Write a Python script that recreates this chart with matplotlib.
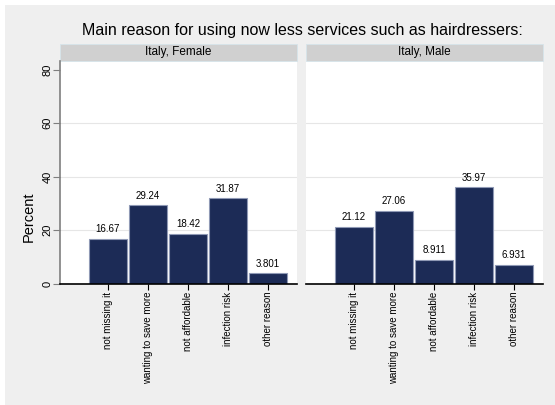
import numpy as np
import matplotlib.pyplot as plt
from matplotlib.patches import Rectangle

plt.rcParams["font.family"] = ["Liberation Sans", "DejaVu Sans"]

reasons = ["not missing it", "wanting to save more", "not affordable",
           "infection risk", "other reason"]
panels = ["Italy, Female", "Italy, Male"]
female = [16.67, 29.24, 18.42, 31.87, 3.801]
male = [21.12, 27.06, 8.911, 35.97, 6.931]
labels_f = ["16.67", "29.24", "18.42", "31.87", "3.801"]
labels_m = ["21.12", "27.06", "8.911", "35.97", "6.931"]
yticks = [0, 20, 40, 60, 80]

W, H = 555, 405
BG = "#efefef"
BAR = "#1c2b56"
EDGE = "#8f99b5"

fig = plt.figure(figsize=(W / 100, H / 100), dpi=100, facecolor="white")
fig.patches.append(Rectangle((5 / W, 0), 1, (H - 5) / H, transform=fig.transFigure,
                             facecolor=BG, edgecolor="none", zorder=-10))

fig.text(302 / W, 1 - 31 / H, "Main reason for using now less services such as hairdressers:",
         ha="center", va="center", fontsize=11.5)

ax_bottom, ax_top = 283.5, 61
strip_h = (ax_top - 44) / (ax_bottom - ax_top)
x_pos = np.arange(1, len(reasons) + 1)

for i, (name, vals, labs) in enumerate(zip(panels, [female, male], [labels_f, labels_m])):
    left = [60, 306][i]
    ax = fig.add_axes([left / W, 1 - ax_bottom / H, 237 / W, (ax_bottom - ax_top) / H])
    ax.set_facecolor("white")
    ax.set_xlim(-0.2, 5.725)
    ax.set_ylim(0, 83.3)
    for v in yticks[1:-1]:
        ax.axhline(v, color="#e6e6e6", lw=0.8, zorder=0)
    ax.bar(x_pos, vals, width=0.97, color=BAR, edgecolor=EDGE, linewidth=0.8, zorder=2)
    for x, v, t in zip(x_pos, vals, labs):
        ax.text(x, v + 1.8, t, ha="center", va="bottom", fontsize=7)
    ax.set_xticks(x_pos)
    ax.set_xticklabels(reasons, rotation=90, fontsize=7)
    ax.tick_params(axis="x", length=4, width=0.8, pad=2)
    for s in ["top", "right"]:
        ax.spines[s].set_visible(False)
    ax.spines["bottom"].set_linewidth(1.2)
    ax.spines["bottom"].set_zorder(3)
    if i == 0:
        ax.spines["left"].set_color("#7f7f7f")
        ax.spines["left"].set_linewidth(1.2)
        ax.set_yticks(yticks)
        ax.set_yticklabels([str(t) for t in yticks], rotation=90, va="center", fontsize=8)
        ax.tick_params(axis="y", length=5, width=0.8, color="#7f7f7f", pad=0.5)
        ax.set_ylabel("Percent", fontsize=10.5)
        ax.yaxis.set_label_coords((36 - left) / 237, (ax_bottom - 217) / (ax_bottom - ax_top))
    else:
        ax.spines["left"].set_visible(False)
        ax.set_yticks([])
    ax.add_patch(Rectangle((0, 1), 1, strip_h, transform=ax.transAxes, clip_on=False,
                           facecolor="#d0d0d0", edgecolor="#d6e4ea", linewidth=0.6))
    ax.text(0.5, 1 + strip_h / 2, name, transform=ax.transAxes, ha="center", va="center",
            fontsize=8.5)

fig.savefig("out.png", dpi=100, facecolor=fig.get_facecolor())
